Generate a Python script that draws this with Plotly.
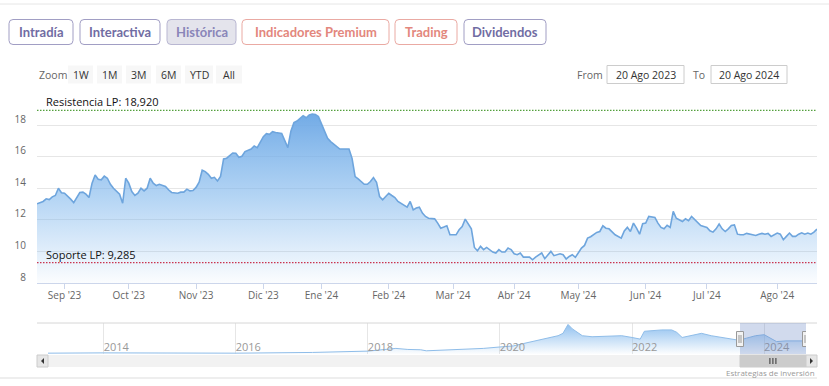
import plotly.graph_objects as go

W, H = 829, 386

# ---------------- data ----------------
dates = ["2023-08-21","2023-08-23","2023-08-24","2023-08-25","2023-08-28","2023-08-29","2023-08-30","2023-08-31",
"2023-09-01","2023-09-04","2023-09-05","2023-09-06","2023-09-07","2023-09-08","2023-09-11","2023-09-12","2023-09-13",
"2023-09-14","2023-09-15","2023-09-18","2023-09-19","2023-09-20","2023-09-21","2023-09-22","2023-09-25","2023-09-26",
"2023-09-27","2023-09-28","2023-09-29","2023-10-02","2023-10-03","2023-10-04","2023-10-05","2023-10-06","2023-10-09",
"2023-10-10","2023-10-11","2023-10-12","2023-10-13","2023-10-16","2023-10-17","2023-10-18","2023-10-19","2023-10-20",
"2023-10-24","2023-10-25","2023-10-26","2023-10-27","2023-10-30","2023-10-31","2023-11-01","2023-11-02","2023-11-03",
"2023-11-06","2023-11-07","2023-11-08","2023-11-09","2023-11-10","2023-11-13","2023-11-14","2023-11-15","2023-11-16",
"2023-11-17","2023-11-20","2023-11-21","2023-11-22","2023-11-23","2023-11-27","2023-11-28","2023-11-29","2023-11-30",
"2023-12-01","2023-12-04","2023-12-05","2023-12-06","2023-12-07","2023-12-11","2023-12-12","2023-12-13","2023-12-14",
"2023-12-15","2023-12-18","2023-12-19","2023-12-20","2023-12-21","2023-12-22","2023-12-27","2023-12-28","2023-12-29",
"2024-01-02","2024-01-03","2024-01-04","2024-01-05","2024-01-08","2024-01-09","2024-01-10","2024-01-12","2024-01-15",
"2024-01-16","2024-01-17","2024-01-18","2024-01-22","2024-01-23","2024-01-24","2024-01-25","2024-01-26","2024-01-29",
"2024-01-30","2024-01-31","2024-02-01","2024-02-02","2024-02-05","2024-02-06","2024-02-07","2024-02-08","2024-02-09",
"2024-02-12","2024-02-13","2024-02-14","2024-02-15","2024-02-16","2024-02-19","2024-02-20","2024-02-22","2024-02-23",
"2024-02-26","2024-02-27","2024-02-28","2024-02-29","2024-03-01","2024-03-04","2024-03-05","2024-03-06","2024-03-07",
"2024-03-08","2024-03-11","2024-03-12","2024-03-13","2024-03-14","2024-03-15","2024-03-18","2024-03-19","2024-03-20",
"2024-03-21","2024-03-22","2024-03-25","2024-03-26","2024-03-27","2024-03-28","2024-04-02","2024-04-03","2024-04-04",
"2024-04-05","2024-04-09","2024-04-10","2024-04-11","2024-04-12","2024-04-15","2024-04-16","2024-04-17","2024-04-18",
"2024-04-19","2024-04-22","2024-04-23","2024-04-24","2024-04-25","2024-04-26","2024-04-29","2024-04-30","2024-05-02",
"2024-05-03","2024-05-06","2024-05-07","2024-05-08","2024-05-09","2024-05-10","2024-05-13","2024-05-14","2024-05-15",
"2024-05-16","2024-05-20","2024-05-21","2024-05-22","2024-05-23","2024-05-24","2024-05-27","2024-05-28","2024-05-29",
"2024-05-30","2024-05-31","2024-06-03","2024-06-04","2024-06-05","2024-06-06","2024-06-07","2024-06-10","2024-06-11",
"2024-06-12","2024-06-13","2024-06-14","2024-06-17","2024-06-18","2024-06-19","2024-06-20","2024-06-21","2024-06-24",
"2024-06-25","2024-06-26","2024-06-27","2024-06-28","2024-07-01","2024-07-02","2024-07-03","2024-07-04","2024-07-05",
"2024-07-08","2024-07-09","2024-07-10","2024-07-11","2024-07-12","2024-07-15","2024-07-16","2024-07-17","2024-07-18",
"2024-07-19","2024-07-22","2024-07-23","2024-07-24","2024-07-25","2024-07-26","2024-07-29","2024-07-30","2024-07-31",
"2024-08-01","2024-08-02","2024-08-05","2024-08-06","2024-08-07","2024-08-08","2024-08-09","2024-08-12","2024-08-13",
"2024-08-14","2024-08-15","2024-08-16","2024-08-19","2024-08-20"]

prices = [13.01,13.16,13.33,13.28,13.45,13.54,14.00,13.71,
13.68,13.52,13.31,13.09,13.41,13.73,13.75,13.62,13.41,
14.32,14.84,14.57,14.53,14.76,14.63,14.25,14.00,13.79,
13.62,13.05,14.63,14.32,13.79,13.54,13.68,14.00,13.83,
14.00,14.63,14.32,14.17,14.25,14.17,14.11,13.90,13.73,
13.68,13.75,13.75,13.94,13.83,13.85,14.05,14.38,15.14,
15.05,14.88,14.63,14.69,14.46,14.74,15.85,15.90,16.06,
16.23,16.21,15.96,16.02,16.32,16.48,16.67,16.57,16.95,
17.26,17.45,17.41,17.58,17.52,17.47,17.00,16.57,17.60,
18.15,18.25,18.42,18.59,18.46,18.63,18.69,18.67,18.53,
18.11,17.58,17.16,16.95,16.80,16.63,16.48,16.48,16.48,
15.89,14.74,14.59,14.25,14.25,14.42,14.67,14.38,13.47,
13.26,13.47,13.68,13.54,13.41,13.16,13.05,12.95,12.80,
13.16,12.63,12.74,12.80,12.42,12.21,12.10,12.06,11.79,
11.47,11.54,11.62,11.05,11.05,11.05,11.37,11.58,12.04,
11.73,11.43,10.25,10.04,10.32,10.11,10.25,10.11,9.96,
9.90,10.11,9.96,9.96,10.21,10.11,9.85,9.79,9.90,
9.64,9.64,9.47,9.64,9.79,9.90,9.54,9.75,10.00,
9.73,9.79,9.85,9.79,9.52,9.68,9.79,9.62,9.90,
10.21,10.38,10.84,10.93,11.05,11.20,11.26,11.62,11.47,
11.43,11.05,10.97,10.84,11.30,11.52,11.26,11.79,11.47,
11.09,11.75,11.79,12.21,12.17,12.15,11.79,11.52,11.43,
11.65,11.52,12.53,12.10,12.00,11.89,12.06,11.94,12.21,
12.00,11.85,11.64,11.58,11.52,11.30,11.22,11.43,11.73,
11.43,11.26,11.43,11.64,11.68,11.09,11.05,11.05,11.14,
11.09,11.05,11.01,11.09,11.14,11.09,11.14,10.95,11.05,
11.16,11.09,10.74,10.95,11.16,10.95,10.95,11.09,11.18,
11.09,11.16,11.09,11.22,11.41]

nav_dates = ["2013-02-27","2014-01-01","2016-01-01","2017-03-01","2018-01-01","2018-04-01","2018-06-05",
"2018-08-10","2018-10-20","2018-11-20","2019-01-01","2019-05-15","2019-10-01","2020-01-01","2020-03-15",
"2020-05-10","2020-07-01","2020-08-25","2020-10-20","2020-11-18","2020-12-15","2021-01-12","2021-02-05",
"2021-03-08","2021-04-01","2021-05-25","2021-08-20","2021-11-05","2022-01-01","2022-02-15","2022-03-10",
"2022-04-20","2022-06-15","2022-08-08","2022-09-05","2022-10-05","2022-11-25","2023-01-20","2023-03-15",
"2023-05-10","2023-07-01","2023-08-15","2023-09-25","2023-11-15","2024-01-02","2024-01-30","2024-03-10",
"2024-05-01","2024-08-20"]
nav_prices = [0.8,1.1,0.8,1.5,2.8,4.1,5.4,
4.4,4.1,3.1,3.4,4.4,5.4,6.8,7.8,
10.1,12.0,14.4,16.0,17.7,20.0,28.6,24.3,
21.0,17.7,16.7,17.0,17.7,16.0,14.4,22.0,
22.7,23.3,23.3,21.0,16.0,17.7,20.0,17.7,
16.0,14.4,13.3,15.3,17.7,18.7,16.0,12.0,
12.7,12.7]

holidays = ["2023-12-25","2023-12-26","2024-01-01","2024-03-29","2024-04-01","2024-05-01"]
month_ticks = ["2023-09-01","2023-10-02","2023-11-01","2023-12-01","2024-01-02","2024-02-01",
               "2024-03-01","2024-04-02","2024-05-02","2024-06-03","2024-07-01","2024-08-01"]
month_labels = ["Sep '23","Oct '23","Nov '23","Dic '23","Ene '24","Feb '24",
                "Mar '24","Abr '24","May '24","Jun '24","Jul '24","Ago '24"]
y_ticks = [8, 10, 12, 14, 16, 18, 20]
y_labels = ["8", "10", "12", "14", "16", "18", ""]
year_ticks = ["2014-01-01","2016-01-01","2018-01-01","2020-01-01","2022-01-01","2024-01-01"]
year_labels = ["2014","2016","2018","2020","2022","2024"]

resistance = 18.92
support = 9.285
resistance_label = "Resistencia LP: 18,920"
support_label = "Soporte LP: 9,285"

tabs = ["Intradía", "Interactiva", "Histórica", "Indicadores Premium", "Trading", "Dividendos"]
range_buttons = ["1W", "1M", "3M", "6M", "YTD", "All"]
from_text, to_text = "From", "To"
from_date, to_date = "20 Ago 2023", "20 Ago 2024"
credit = "Estrategias de inversión"

# ---------------- helpers (pixel -> paper) ----------------
def X(p):
    return p / W

def Y(p):
    return 1 - p / H

shapes = []
annotations = []

def rrect(x0, y0, x1, y1, r, fill, line, lw=1.0):
    rx, ry = r / W, r / H
    a0, a1 = X(x0), X(x1)
    b0, b1 = Y(y0), Y(y1)
    path = (f"M {a0+rx},{b0} L {a1-rx},{b0} Q {a1},{b0} {a1},{b0-ry} "
            f"L {a1},{b1+ry} Q {a1},{b1} {a1-rx},{b1} L {a0+rx},{b1} "
            f"Q {a0},{b1} {a0},{b1+ry} L {a0},{b0-ry} Q {a0},{b0} {a0+rx},{b0} Z")
    shapes.append(dict(type="path", xref="paper", yref="paper", path=path,
                       fillcolor=fill, line=dict(color=line, width=lw), layer="above"))

def prect(x0, y0, x1, y1, fill, line=None, lw=0):
    shapes.append(dict(type="rect", xref="paper", yref="paper", x0=X(x0), x1=X(x1), y0=Y(y1), y1=Y(y0),
                       fillcolor=fill, line=dict(color=line or fill, width=lw), layer="above"))

def pline(x0, y0, x1, y1, color, lw=1):
    shapes.append(dict(type="line", xref="paper", yref="paper", x0=X(x0), x1=X(x1), y0=Y(y0), y1=Y(y1),
                       line=dict(color=color, width=lw), layer="above"))

def text(x, y, s, size=11, color="#333333", family="Open Sans", anchor="center", weight=400):
    annotations.append(dict(xref="paper", yref="paper", x=X(x), y=Y(y), text=s, showarrow=False,
                            xanchor=anchor, yanchor="middle",
                            font=dict(family=family, size=size, color=color, weight=weight)))

# ---------------- top tabs ----------------
purple_txt, purple_border = "#716da3", "#a19ec4"
salmon_txt, salmon_border = "#e3877d", "#eaaaa3"
tab_boxes = [(9, 73), (80, 160), (167, 236), (242, 389), (395, 457), (464, 546)]
tab_styles = [(purple_txt, purple_border, "#ffffff"), (purple_txt, purple_border, "#ffffff"),
              ("#8a86b9", "#b9b7d2", "#e4e4ec"), (salmon_txt, salmon_border, "#ffffff"),
              (salmon_txt, salmon_border, "#ffffff"), (purple_txt, purple_border, "#ffffff")]
for label, (a, b), (tc, bc, fc) in zip(tabs, tab_boxes, tab_styles):
    rrect(a, 19.5, b, 44.5, 4, fc, bc, 1)
    text((a + b) / 2, 32, label, size=13, color=tc, family="Lato", weight=700)

pline(0, 4, W, 4, "#e6e6e6", 1)

# ---------------- range selector / inputs ----------------
text(37, 74.5, "Zoom", size=10.5, color="#666666", anchor="left")
btn_boxes = [(68, 93), (97, 122), (126, 151), (156, 181), (185, 213), (216, 242)]
for label, (a, b) in zip(range_buttons, btn_boxes):
    prect(a, 65.5, b, 83.5, "#f7f7f7")
    text((a + b) / 2, 74.5, label, size=10.5, color="#333333")
text(590, 74.5, from_text, size=10.5, color="#666666")
prect(607, 65.5, 684, 83.5, "#ffffff", "#cccccc", 1)
text(645.5, 74.5, from_date, size=10.5, color="#333333")
text(699, 74.5, to_text, size=10.5, color="#666666")
prect(711, 65.5, 787, 83.5, "#ffffff", "#cccccc", 1)
text(749, 74.5, to_date, size=10.5, color="#333333")

# ---------------- traces ----------------
fig = go.Figure()
fig.add_trace(go.Scatter(
    x=dates, y=prices, mode="lines", xaxis="x", yaxis="y",
    line=dict(color="#6ea5dd", width=1.6),
    fill="tozeroy",
    fillgradient=dict(type="vertical", start=8, stop=19,
                      colorscale=[[0, "rgba(124,181,236,0.03)"], [0.5, "rgba(124,181,236,0.58)"],
                                  [1, "rgba(110,168,229,1)"]]),
    hoverinfo="skip"))
fig.add_trace(go.Scatter(
    x=nav_dates, y=nav_prices, mode="lines", xaxis="x2", yaxis="y2",
    line=dict(color="#8fbde9", width=1),
    fill="tozeroy",
    fillgradient=dict(type="vertical", start=0, stop=29,
                      colorscale=[[0, "rgba(124,181,236,0.02)"], [1, "rgba(124,181,236,0.85)"]]),
    hoverinfo="skip"))

# ---------------- support / resistance ----------------
shapes.append(dict(type="line", xref="paper", yref="y", x0=X(37), x1=X(817), y0=resistance, y1=resistance,
                   line=dict(color="#54a03e", width=1.2, dash="1.5px,1.5px"), layer="above"))
shapes.append(dict(type="line", xref="paper", yref="y", x0=X(37), x1=X(817), y0=support, y1=support,
                   line=dict(color="#c9344f", width=1.2, dash="1.5px,1.5px"), layer="above"))
for val, lab in [(resistance, resistance_label), (support, support_label)]:
    annotations.append(dict(xref="paper", yref="y", x=X(44), y=val, text=lab, showarrow=False,
                            xanchor="left", yanchor="bottom", yshift=-1,
                            font=dict(family="Open Sans", size=11, color="#111111")))

# ---------------- navigator decorations ----------------
pline(37, 323, 817, 323, "#d6d6d6", 1)
shapes.append(dict(type="rect", xref="x2", yref="paper", x0=dates[0], x1=dates[-1], y0=Y(354), y1=Y(323),
                   fillcolor="rgba(102,133,194,0.3)", line=dict(width=0), layer="above"))
# scrollbar
prect(37, 355, 817, 367, "#f2f2f2")
prect(37, 355, 48, 367, "#e6e6e6", "#cccccc", 1)
prect(806, 355, 817, 367, "#e6e6e6", "#cccccc", 1)
shapes.append(dict(type="path", xref="paper", yref="paper",
                   path=f"M {X(44)},{Y(358)} L {X(41)},{Y(361)} L {X(44)},{Y(364)} Z",
                   fillcolor="#333333", line=dict(width=0), layer="above"))
shapes.append(dict(type="path", xref="paper", yref="paper",
                   path=f"M {X(810)},{Y(358)} L {X(813)},{Y(361)} L {X(810)},{Y(364)} Z",
                   fillcolor="#333333", line=dict(width=0), layer="above"))
shapes.append(dict(type="rect", xref="x2", yref="paper", x0=dates[0], x1=dates[-1], y0=Y(367), y1=Y(355),
                   fillcolor="#cccccc", line=dict(color="#cccccc", width=1), layer="above"))
mid = "2024-02-19"
for dx in (-3, 0, 3):
    shapes.append(dict(type="line", xref="x2", yref="paper", xsizemode="pixel", xanchor=mid,
                       x0=dx, x1=dx, y0=Y(364), y1=Y(358), line=dict(color="#333333", width=1), layer="above"))
# handles
for d in (dates[0], dates[-1]):
    shapes.append(dict(type="rect", xref="x2", yref="paper", xsizemode="pixel", xanchor=d,
                       x0=-3.5, x1=3.5, y0=Y(346.5), y1=Y(331.5),
                       fillcolor="#f2f2f2", line=dict(color="#999999", width=1), layer="above"))
    for dx in (-1, 1):
        shapes.append(dict(type="line", xref="x2", yref="paper", xsizemode="pixel", xanchor=d,
                           x0=dx, x1=dx, y0=Y(343), y1=Y(335), line=dict(color="#999999", width=1),
                           layer="above"))

# bottom
pline(0, 378, 817, 378, "#dddddd", 1)
annotations.append(dict(xref="paper", yref="paper", x=X(817), y=Y(372), text=credit, showarrow=False,
                        xanchor="right", yanchor="middle",
                        font=dict(family="Open Sans", size=8, color="#999999")))

# ---------------- layout ----------------
fig.update_layout(
    template="none",
    width=W, height=H,
    margin=dict(l=0, r=0, t=0, b=0),
    paper_bgcolor="#ffffff", plot_bgcolor="#ffffff",
    showlegend=False,
    xaxis=dict(domain=[X(37), X(817)], anchor="y", type="date",
               range=[dates[0], dates[-1]],
               rangebreaks=[dict(bounds=["sat", "mon"]), dict(values=holidays)],
               tickmode="array", tickvals=month_ticks, ticktext=month_labels,
               ticks="outside", ticklen=5, tickcolor="#ccd6eb", tickwidth=1,
               ticklabelstandoff=-2,
               showline=True, linecolor="#ccd6eb", linewidth=1,
               showgrid=False, zeroline=False, automargin=False, fixedrange=True,
               tickfont=dict(family="Open Sans", size=10, color="#666666")),
    yaxis=dict(domain=[Y(283), Y(93.4)], anchor="x", range=[8, 20],
               tickmode="array", tickvals=y_ticks, ticktext=y_labels,
               showgrid=True, gridcolor="#e6e6e6", gridwidth=1,
               zeroline=False, showline=False, ticks="",
               ticklabelstandoff=10, ticklabelshift=-6,
               automargin=False, fixedrange=True,
               tickfont=dict(family="Open Sans", size=10, color="#666666")),
    xaxis2=dict(domain=[X(48), X(806)], anchor="y2", type="date",
                range=["2013-02-27", "2024-08-20"],
                tickmode="array", tickvals=year_ticks, ticktext=year_labels,
                ticklabelposition="inside right", ticks="", ticklabelstandoff=-5,
                showgrid=True, gridcolor="#e6e6e6", gridwidth=1,
                showline=False, zeroline=False, automargin=False, fixedrange=True,
                tickfont=dict(family="Open Sans", size=11, color="#999999")),
    yaxis2=dict(domain=[Y(354), Y(323)], anchor="x2", range=[0, 30], visible=False,
                fixedrange=True, automargin=False),
    shapes=shapes,
    annotations=annotations,
)

fig.write_html("out.html", config={"displayModeBar": False},
               post_script="document.body.style.margin='0px';document.body.style.overflow='hidden';")
